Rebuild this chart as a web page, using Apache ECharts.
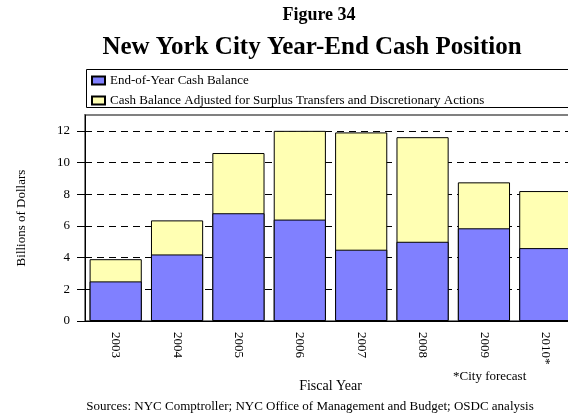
<!DOCTYPE html>
<html>
<head>
<meta charset="utf-8">
<script src="https://cdn.jsdelivr.net/npm/echarts@6/dist/echarts.min.js"></script>
<style>
  html, body { margin: 0; padding: 0; background: #fff; }
  #chart { width: 568px; height: 414px; }
</style>
</head>
<body>
<div id="chart"></div>
<script>
const years = ['2003', '2004', '2005', '2006', '2007', '2008', '2009', '2010*'];
const endOfYearBalance = [2.5, 4.2, 6.8, 6.4, 4.5, 5.0, 5.85, 4.6];
const adjustedBalance = [3.9, 6.35, 10.6, 12.0, 11.9, 11.6, 8.75, 8.2];
const yTicks = [0, 2, 4, 6, 8, 10, 12];

const serif = 'Liberation Serif, Times New Roman, serif';

document.addEventListener('DOMContentLoaded', () => {
    const chart = echarts.init(document.getElementById('chart'), null, { renderer: 'canvas' });
    const option = {
        animation: false,
        backgroundColor: '#fff',
        textStyle: { fontFamily: serif, color: '#000' },
        graphic: [
            { type: 'text', x: 319, y: 15, style: { text: 'Figure 34', font: 'bold 18px ' + serif, fill: '#000', textAlign: 'center', textVerticalAlign: 'middle' } },
            { type: 'text', x: 312, y: 48, style: { text: 'New York City Year-End Cash Position', font: 'bold 25px ' + serif, fill: '#000', textAlign: 'center', textVerticalAlign: 'middle' } },
            { type: 'rect', shape: { x: 86.5, y: 69.5, width: 520, height: 38 }, style: { fill: 'none', stroke: '#000', lineWidth: 1 }, z: -1 },
            { type: 'text', x: 453, y: 377, style: { text: '*City forecast', font: '13px ' + serif, fill: '#000', textVerticalAlign: 'middle' } },
            { type: 'text', x: 310, y: 407, style: { text: 'Sources: NYC Comptroller; NYC Office of Management and Budget; OSDC analysis', font: '13px ' + serif, fill: '#000', textAlign: 'center', textVerticalAlign: 'middle' } }
        ],
        legend: {
            data: ['End-of-Year Cash Balance', 'Cash Balance Adjusted for Surplus Transfers and Discretionary Actions'],
            orient: 'vertical',
            left: 91,
            top: 74,
            padding: 0,
            itemGap: 7,
            itemWidth: 13,
            itemHeight: 8,
            itemTextGap: 2,
            icon: 'rect',
            textStyle: { fontFamily: serif, fontSize: 13, color: '#000' }
        },
        grid: {
            left: 85,
            top: 115,
            width: 491,
            height: 206,
            outerBoundsMode: 'none',
            show: true,
            borderColor: '#808080',
            borderWidth: 2,
            backgroundColor: 'transparent'
        },
        xAxis: {
            type: 'category',
            data: years,
            name: 'Fiscal Year',
            nameLocation: 'middle',
            nameGap: 58,
            nameTextStyle: { fontFamily: serif, fontSize: 14, color: '#000' },
            axisLine: { lineStyle: { color: '#000', width: 1 } },
            axisTick: { alignWithLabel: true, length: 7, lineStyle: { color: '#000', width: 2 } },
            axisLabel: { rotate: -90, margin: 11, fontFamily: serif, fontSize: 13, color: '#000' }
        },
        yAxis: {
            type: 'value',
            min: 0,
            max: 13,
            interval: 2,
            name: 'Billions of Dollars',
            nameLocation: 'middle',
            nameGap: 57,
            nameTextStyle: { fontFamily: serif, fontSize: 13, color: '#000' },
            axisLine: { show: true, lineStyle: { color: '#000', width: 1 } },
            axisTick: { show: true, length: 8, lineStyle: { color: '#000', width: 1 } },
            axisLabel: {
                margin: 15,
                showMaxLabel: false,
                fontFamily: serif,
                fontSize: 13,
                color: '#000',
                formatter: v => yTicks.includes(v) ? String(v) : ''
            },
            splitLine: { show: true, showMaxLine: false, lineStyle: { color: '#000', type: [7, 5], width: 1 } }
        },
        series: [
            {
                name: 'Cash Balance Adjusted for Surplus Transfers and Discretionary Actions',
                type: 'bar',
                data: adjustedBalance,
                barCategoryGap: '15%',
                itemStyle: { color: '#FFFFB3', borderColor: '#000', borderWidth: 1 }
            },
            {
                name: 'End-of-Year Cash Balance',
                type: 'bar',
                data: endOfYearBalance,
                barGap: '-100%',
                barCategoryGap: '15%',
                itemStyle: { color: '#8080FF', borderColor: '#000', borderWidth: 1 }
            }
        ]
    };
    chart.setOption(option);
    window.addEventListener('resize', () => chart.resize());
});
</script>
</body>
</html>
